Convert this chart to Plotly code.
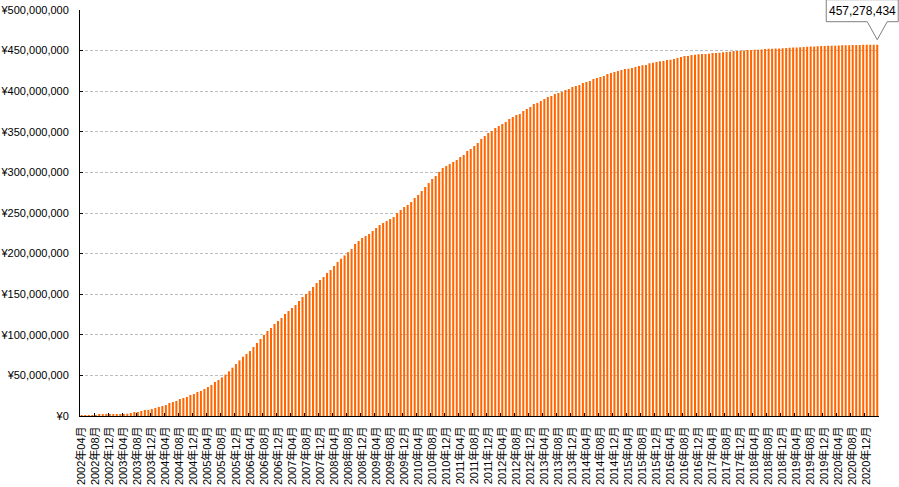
import plotly.graph_objects as go

# Monthly categories: 2002年04月 .. 2021年03月
start_year, start_month, n_months = 2002, 4, 228
months = []
y, m = start_year, start_month
for _ in range(n_months):
    months.append(f"{y}年{m:02d}月")
    m += 1
    if m > 12:
        m = 1
        y += 1

# Cumulative amount (millions of yen)
vals_2002_2003 = [0.6, 0.8, 0.9, 1.1, 1.2, 1.3, 1.4, 1.5, 1.6, 1.7, 1.9]
vals_early = [2.5, 2.6, 2.8, 3.7, 4.8, 5.0, 6.2, 7.3, 7.6, 8.6, 9.9, 11.1, 12.3, 13.5,
              16.0, 17.2, 18.5, 20.9, 22.2, 23.4, 25.9, 27.1, 29.6, 30.8, 33.3, 35.7,
              38.2, 41.9, 44.3]
vals_2005 = [47.5, 51.0, 55.0, 59.5, 64.0, 68.5]
vals_growth1 = [73.1, 76.4, 80.0, 85.0, 89.9, 94.8, 99.8, 104.7, 108.4, 113.3, 117.0,
                120.7, 125.6, 129.3, 133.0, 136.7, 141.6, 146.6, 150.2, 153.9, 158.9,
                163.8, 167.5, 171.2, 176.1, 179.8, 184.7, 189.7]
vals_gap = [193.7, 197.7, 201.7]
vals_growth2 = [205.7, 211.8, 215.5, 219.2, 221.7, 224.1, 227.8, 231.5, 235.2, 237.7,
                240.1, 242.6, 245.1, 250.0, 253.7, 257.4, 259.9, 263.5, 268.5, 272.2,
                277.1, 282.0, 286.9, 291.9, 295.6, 300.5, 305.4, 307.9, 310.3, 312.8,
                315.3, 319.0, 321.4, 326.4]
vals_slow1 = [328.8, 332.5, 336.2, 341.1, 344.8, 348.5, 351.0, 354.7, 357.1, 359.6,
              362.1, 365.8, 368.2, 370.7, 371.9, 375.6, 378.1, 380.5, 384.2, 385.5,
              387.9, 390.4, 392.9, 394.1, 396.6, 397.8, 399.0, 401.5, 402.7, 405.2,
              406.4, 407.6, 410.1, 411.3, 412.6, 415.0, 416.3, 417.5]
vals_slow2 = [418.7, 421.2, 422.4, 423.6, 424.9, 426.1, 427.3, 427.6, 428.6, 429.8,
              431.0, 432.0, 432.4, 434.5, 434.9, 436.0, 437.0, 437.3, 438.3, 438.6,
              439.7, 440.9, 442.1, 443.2, 443.5, 444.5, 444.8, 445.5, 445.7, 445.9,
              446.1, 446.9, 447.1, 447.3, 448.1, 448.3, 448.5]
vals_plateau = [449.4, 449.6, 449.8, 450.0, 450.6, 450.8, 451.0, 451.2, 451.4,
                452.0, 452.2, 452.4, 452.5, 452.7, 452.9, 453.3, 453.5, 453.7, 453.9,
                454.1, 454.5, 454.7, 454.9, 455.1, 455.5, 455.6, 455.8, 455.9, 456.0,
                456.1, 456.4, 456.5, 456.6, 456.7, 456.8, 456.9, 457.0, 457.1, 457.15,
                457.2, 457.25, 457.278434]

values_m = (vals_2002_2003 + vals_early + vals_2005 + vals_growth1 + vals_gap +
            vals_growth2 + vals_slow1 + vals_slow2 + vals_plateau)
assert len(values_m) == len(months)
values = [round(v * 1_000_000) for v in values_m]

Y_MAX = 500_000_000
FONT = "Liberation Sans, Arial, 'Noto Sans CJK JP', sans-serif"

fig = go.Figure(go.Bar(
    x=months, y=values,
    marker=dict(color="#FF6600", line=dict(width=0)),
))

n = len(values)
fig.update_layout(
    width=899, height=487,
    margin=dict(l=80, r=20, t=10, b=71, autoexpand=False),
    paper_bgcolor="white", plot_bgcolor="white",
    bargap=0.42,
    showlegend=False,
    font=dict(family=FONT, size=11, color="black"),
)
fig.update_xaxes(
    type="category",
    range=[-0.5, n - 0.5], autorange=False,
    tickmode="linear", tick0=0, dtick=4,
    tickson="boundaries",
    ticks="inside", ticklen=3, tickcolor="black",
    tickangle=-90,
    showline=True, linecolor="black", linewidth=1,
    showgrid=False,
    automargin=False,
    ticklabelstandoff=5,
    tickfont=dict(size=11),
)
fig.update_yaxes(
    range=[0, Y_MAX], dtick=50_000_000,
    tickprefix="¥", tickformat=",d",
    ticks="inside", ticklen=3, tickcolor="black",
    showline=True, linecolor="black", linewidth=1,
    showgrid=True, gridcolor="#BDBDBD", gridwidth=1, griddash="3px,2px",
    zeroline=False,
    automargin=False,
    ticklabelstandoff=8,
    tickfont=dict(size=11),
)

# Callout for the last value
anchor_x = (n - 1 + 0.5) / n
anchor_y = values[-1] / Y_MAX
fig.add_shape(
    type="path", xref="paper", yref="paper",
    xsizemode="pixel", ysizemode="pixel",
    xanchor=anchor_x, yanchor=anchor_y,
    path="M -51,23 L -10,23 L 0,5 L 10,23 L 21,23 L 21,45 L -51,45 Z",
    fillcolor="white", line=dict(color="#808080", width=1),
    layer="above",
)
fig.add_annotation(
    x=months[-1], y=values[-1], xref="x", yref="y",
    text=f"{values[-1]:,}", showarrow=False,
    xanchor="center", yanchor="middle",
    xshift=-15, yshift=33.5,
    font=dict(size=12, color="black"),
)

fig.write_html("out.html")
